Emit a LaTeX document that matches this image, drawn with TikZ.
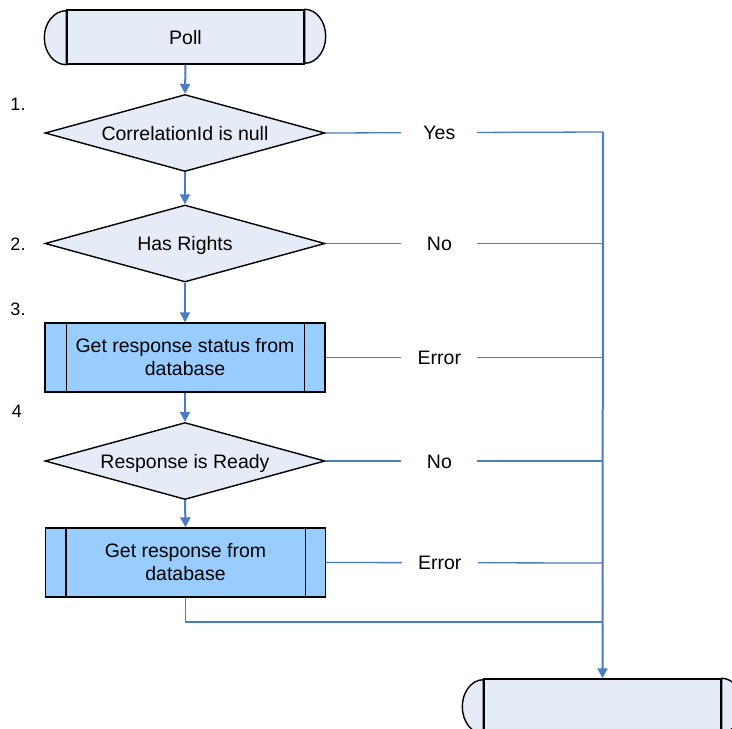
\documentclass[tikz,border=0pt]{standalone}
\usepackage{fontspec}
\setmainfont{Liberation Sans}
\usetikzlibrary{shapes.geometric,arrows.meta,calc}
\definecolor{paleblue}{HTML}{E6ECF7}
\definecolor{procblue}{HTML}{99CCFF}
\definecolor{linkblue}{HTML}{4A7CC4}
\tikzset{
  every node/.style={font=\fontsize{19.5}{23}\selectfont},
  termbox/.style={draw=black,line width=1.4pt,fill=paleblue,minimum width=237pt,minimum height=54pt,inner sep=0pt,text height=14pt,text depth=0pt},
  decision/.style={diamond,draw=black,line width=1.4pt,fill=paleblue,minimum width=280pt,minimum height=77pt,aspect=3.6,inner sep=0pt,text height=14pt,text depth=0pt},
  procbox/.style={draw=black,line width=1.4pt,fill=procblue,minimum width=280pt,minimum height=69pt,inner sep=0pt,align=center},
  flow/.style={draw=linkblue,line width=2pt,-{Triangle[width=10pt,length=10pt]}},
  branch/.style={draw=linkblue,line width=1.3pt},
  blabel/.style={fill=white,minimum width=76pt,inner sep=0pt,minimum height=20pt,text height=14pt,text depth=0pt},
  stepnum/.style={font=\fontsize{18}{20}\selectfont,inner sep=0pt}
}
\begin{document}
\begin{tikzpicture}[x=1pt,y=1pt]
\useasboundingbox (0,0) rectangle (732,-729);
\begin{scope}
\clip (0,0) rectangle (732,-729);
% start terminator
\node[termbox] (poll) at (185.5,-37) {Poll};
\draw[line width=1.4pt,fill=paleblue] (poll.north east) arc[start angle=90,end angle=-90,x radius=21pt,y radius=27pt] -- cycle;
\draw[line width=1.4pt,fill=paleblue] (poll.south west) arc[start angle=270,end angle=90,x radius=22pt,y radius=27pt] -- cycle;
\draw[line width=1.4pt] (poll.north west) -- (poll.south west) (poll.north east) -- (poll.south east);

\node[decision] (d1) at (185,-133) {CorrelationId is null};
\node[decision] (d2) at (185,-243.5) {Has Rights};
\node[procbox] (b3) at (185,-357.5) {Get response status from\\database};
\draw[line width=1.4pt] ($(b3.north west)+(22,0)$) -- ($(b3.south west)+(22,0)$)
  ($(b3.north east)+(-21,0)$) -- ($(b3.south east)+(-21,0)$);
\node[decision] (d4) at (185,-461) {Response is Ready};
\node[procbox] (b5) at (185.5,-562.5) {Get response from\\database};
\draw[line width=1.4pt] ($(b5.north west)+(21,0)$) -- ($(b5.south west)+(21,0)$)
  ($(b5.north east)+(-21,0)$) -- ($(b5.south east)+(-21,0)$);

% end terminator
\node[termbox] (endt) at (602.5,-706) {};
\draw[line width=1.4pt,fill=paleblue] (endt.north east) arc[start angle=90,end angle=-90,x radius=21pt,y radius=27pt] -- cycle;
\draw[line width=1.4pt,fill=paleblue] (endt.south west) arc[start angle=270,end angle=90,x radius=21pt,y radius=27pt] -- cycle;
\draw[line width=1.4pt] (endt.north west) -- (endt.south west) (endt.north east) -- (endt.south east);

% step numbers
\node[stepnum] (n1) at (18,-104) {1.};
\node[stepnum] (n2) at (18,-244) {2.};
\node[stepnum] (n3) at (18,-309) {3.};
\node[stepnum] (n4) at (17,-411) {4};

% collector coordinates
\coordinate (c1) at (603,-132);
\coordinate (c2) at (603,-243.5);
\coordinate (c3) at (603,-357.5);
\coordinate (c4) at (603,-461);
\coordinate (c5) at (603,-563);
\coordinate (c6) at (603,-622);

% main flow
\draw[flow] (poll.south) -- (d1.north);
\draw[flow] (d1.south) -- (d2.north);
\draw[flow] (d2.south) -- (b3.north);
\draw[flow] (b3.south) -- (d4.north);
\draw[flow] (d4.south) -- (b5.north);

% branches
\draw[branch] (d1.east) -- (c1) node[blabel,pos=0.41] {Yes};
\draw[branch] (d2.east) -- (c2) node[blabel,pos=0.41] {No};
\draw[branch] (b3.east) -- (c3) node[blabel,pos=0.41] {Error};
\draw[branch] (d4.east) -- (c4) node[blabel,pos=0.41] {No};
\draw[branch] (b5.east) -- (c5) node[blabel,pos=0.41] {Error};
\draw[branch] (b5.south) |- (c6);
\draw[flow] (c1) -- (endt.north);
\end{scope}
\end{tikzpicture}
\end{document}
